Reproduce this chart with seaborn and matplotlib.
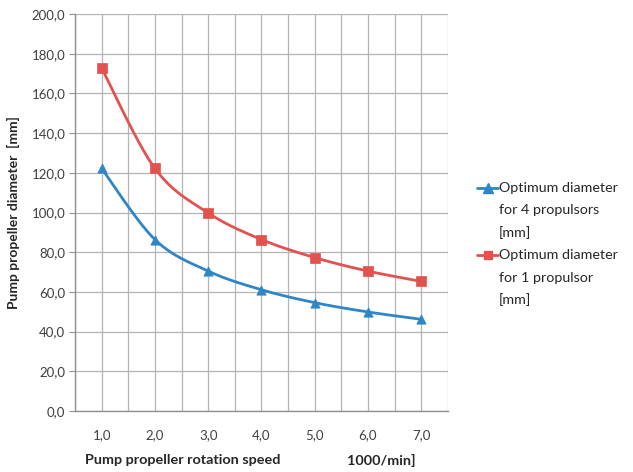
import numpy as np
import pandas as pd
import matplotlib
matplotlib.use("Agg")
import matplotlib.pyplot as plt
from matplotlib.lines import Line2D
import seaborn as sns

# values
speeds = [1.0, 2.0, 3.0, 4.0, 5.0, 6.0, 7.0]
speed_labels = ["1,0", "2,0", "3,0", "4,0", "5,0", "6,0", "7,0"]
diam_4_prop = [122.2, 86.4, 70.5, 61.1, 54.6, 49.9, 46.2]
diam_1_prop = [172.8, 122.2, 99.8, 86.4, 77.3, 70.5, 65.3]
series_names = [["Optimum diameter", "for 4 propulsors", "[mm]"],
                ["Optimum diameter", "for 1 propulsor", "[mm]"]]
y_ticks = [0, 20, 40, 60, 80, 100, 120, 140, 160, 180, 200]

BLUE = "#2f86c6"
RED = "#e2524f"
GRID = "#b4b4b4"
TEXT = "#262626"
W, H = 633, 472


def smooth_curve(xs, ys, n=40):
    # Catmull-Rom curve through the points (like Excel's smoothed line)
    pts = np.column_stack([xs, ys]).astype(float)
    P = np.vstack([pts[0], pts, pts[-1]])
    t = np.linspace(0, 1, n)[:, None]
    segs = []
    for i in range(1, len(P) - 2):
        p0, p1, p2, p3 = P[i - 1], P[i], P[i + 1], P[i + 2]
        seg = 0.5 * (2 * p1 + (-p0 + p2) * t
                     + (2 * p0 - 5 * p1 + 4 * p2 - p3) * t ** 2
                     + (-p0 + 3 * p1 - 3 * p2 + p3) * t ** 3)
        segs.append(seg if i == 1 else seg[1:])
    out = np.vstack(segs)
    return out[:, 0], out[:, 1]


sns.set_style("white")
plt.rcParams['font.family'] = ['Lato', 'DejaVu Sans']

fig = plt.figure(figsize=(6.33, 4.72), dpi=100)
ax = fig.add_axes([0.1185, 0.1292, 0.589, 0.8411])

pos = np.arange(len(speeds))
styles = [(diam_4_prop, BLUE, "^", 45, 6.5), (diam_1_prop, RED, "s", 50, 6)]
for vals, color, marker, ms, _ in styles:
    sx, sy = smooth_curve(pos, vals)
    sns.lineplot(x=sx, y=sy, ax=ax, color=color, lw=2, sort=False,
                 estimator=None, zorder=3)
    sns.scatterplot(x=pos, y=vals, ax=ax, color=color, marker=marker,
                    s=ms, edgecolor=color, linewidth=0.5, zorder=4)

ax.set_xlim(-0.5, len(speeds) - 0.5)
ax.set_ylim(0, 200)
ax.set_yticks(y_ticks)
ax.set_yticklabels([f"{v:.1f}".replace(".", ",") for v in y_ticks],
                   fontsize=9.5, color="#404040")
ax.set_xticks(pos)
ax.set_xticklabels(speed_labels, fontsize=9.5, color="#404040")
ax.set_xticks(np.arange(len(speeds) + 1) - 0.5, minor=True)

ax.grid(True, which="major", color=GRID, lw=0.9)
ax.grid(True, which="minor", axis="x", color=GRID, lw=0.9)
ax.tick_params(axis="x", which="major", length=0, pad=13)
ax.tick_params(axis="x", which="minor", length=4, color="#909090", direction="out")
ax.tick_params(axis="y", length=4, color="#909090", direction="out", left=True, pad=3)
for side in ["top", "right"]:
    ax.spines[side].set_visible(False)
for side in ["left", "bottom"]:
    ax.spines[side].set_color("#909090")
    ax.spines[side].set_linewidth(1)

ax.set_xlabel("")
ax.set_ylabel("Pump propeller diameter  [mm]", fontsize=10, fontweight="bold",
              labelpad=8, color=TEXT)
fig.text(85 / W, 1 - 460 / H, "Pump propeller rotation speed", fontsize=10.4,
         fontweight="bold", ha="left", va="center", color=TEXT)
fig.text(347 / W, 1 - 460 / H, "1000/min]", fontsize=10.4, fontweight="bold",
         ha="left", va="center", color=TEXT)

# legend, drawn line by line so the key sits on the first text line
line_step = 22.4
for i, (vals, color, marker, _, msz) in enumerate(styles):
    for j, txt in enumerate(series_names[i]):
        y = 1 - (188 + (3 * i + j) * line_step) / H
        fig.text(499 / W, y, txt, fontsize=10.3, ha="left", va="center",
                 color=TEXT)
        if j == 0:
            fig.add_artist(Line2D([477 / W, 498 / W], [y, y],
                                  transform=fig.transFigure, color=color, lw=2))
            fig.add_artist(Line2D([487.5 / W], [y], transform=fig.transFigure,
                                  color=color, marker=marker, ms=msz, lw=0))

fig.savefig("out.png", dpi=100)
